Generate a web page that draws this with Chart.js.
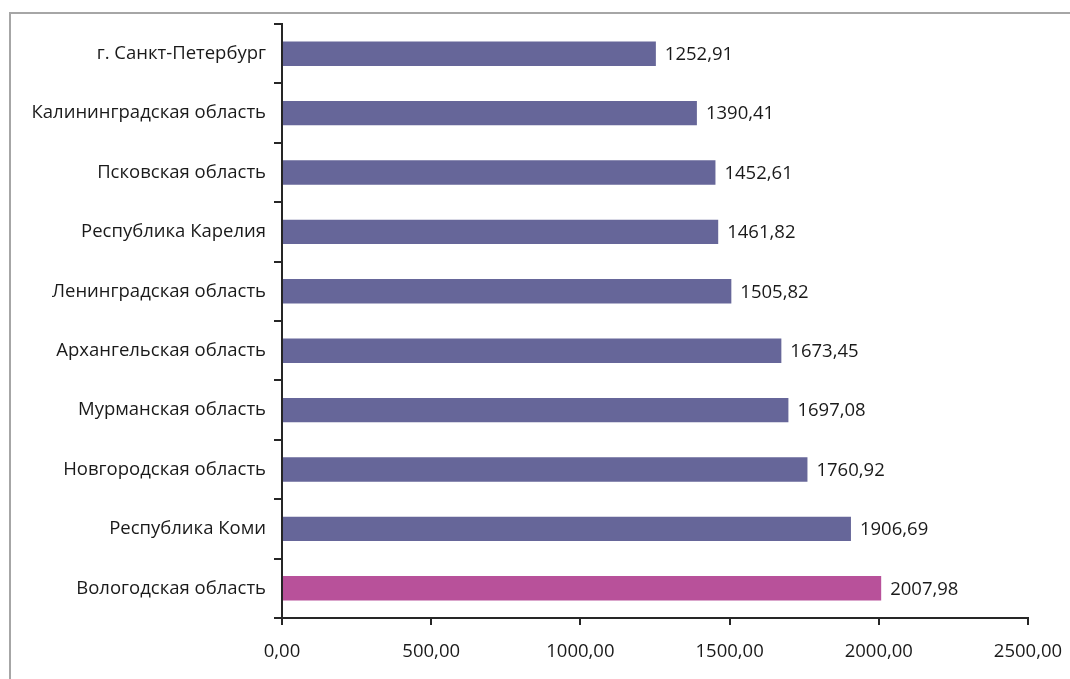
<!DOCTYPE html>
<html>
<head>
<meta charset="utf-8">
<script src="https://cdn.jsdelivr.net/npm/chart.js@4"></script>
<style>
  body { margin: 0; background: #fff; overflow: hidden; }
  #frame { position: absolute; left: 9px; top: 12px; width: 1200px; height: 800px; border: 2px solid #a6a6a6; }
  #wrap { position: absolute; left: 0; top: 0; width: 1070px; height: 679px; }
</style>
</head>
<body>
<div id="frame"></div>
<div id="wrap"><canvas id="c" width="1070" height="679"></canvas></div>
<script>
// регионы и значения
const regions = [
    'г. Санкт-Петербург',
    'Калининградская область',
    'Псковская область',
    'Республика Карелия',
    'Ленинградская область',
    'Архангельская область',
    'Мурманская область',
    'Новгородская область',
    'Республика Коми',
    'Вологодская область'
];
const values = [1252.91, 1390.41, 1452.61, 1461.82, 1505.82, 1673.45, 1697.08, 1760.92, 1906.69, 2007.98];
const barColors = ['#666699', '#666699', '#666699', '#666699', '#666699', '#666699', '#666699', '#666699', '#666699', '#b8519a'];
const xMin = 0, xMax = 2500, xStep = 500;

const fmt = v => v.toFixed(2).replace('.', ',');
const FONT = '"Open Sans", sans-serif';
const FSIZE = 18.5;

// подписи значений справа от столбцов
const valueLabels = {
    id: 'valueLabels',
    afterDatasetsDraw(chart) {
        const ctx = chart.ctx;
        const meta = chart.getDatasetMeta(0);
        ctx.save();
        ctx.font = FSIZE + 'px ' + FONT;
        ctx.fillStyle = '#1a1a1a';
        ctx.textBaseline = 'middle';
        meta.data.forEach((bar, i) => {
            ctx.fillText(fmt(values[i]), bar.x + 9, bar.y + 1);
        });
        ctx.restore();
    }
};

const ctx = document.getElementById('c');
new Chart(ctx, {
    type: 'bar',
    data: {
        labels: regions,
        datasets: [{
            data: values,
            backgroundColor: barColors,
            barPercentage: 0.41,
            categoryPercentage: 1
        }]
    },
    options: {
        indexAxis: 'y',
        responsive: false,
        animation: false,
        layout: { padding: { top: 24, right: 42, left: 0, bottom: 0 } },
        plugins: { legend: { display: false }, tooltip: { enabled: false } },
        scales: {
            x: {
                min: xMin, max: xMax,
                ticks: { stepSize: xStep, callback: v => fmt(v), color: '#1a1a1a', font: { family: FONT, size: FSIZE }, padding: 16, maxRotation: 0 },
                grid: { drawOnChartArea: false, tickLength: 7, color: '#262626', lineWidth: 2 },
                border: { color: '#262626', width: 2 },
                afterFit: s => { s.height = 61; s.paddingLeft = 0; s.paddingRight = 0; }
            },
            y: {
                ticks: { color: '#1a1a1a', font: { family: FONT, size: FSIZE }, padding: 8 },
                grid: { drawOnChartArea: false, offset: true, tickLength: 8, color: '#262626', lineWidth: 2 },
                border: { color: '#262626', width: 2 },
                afterFit: s => { s.width = 282; s.paddingTop = 0; s.paddingBottom = 0; }
            }
        }
    },
    plugins: [valueLabels]
});
</script>
</body>
</html>
